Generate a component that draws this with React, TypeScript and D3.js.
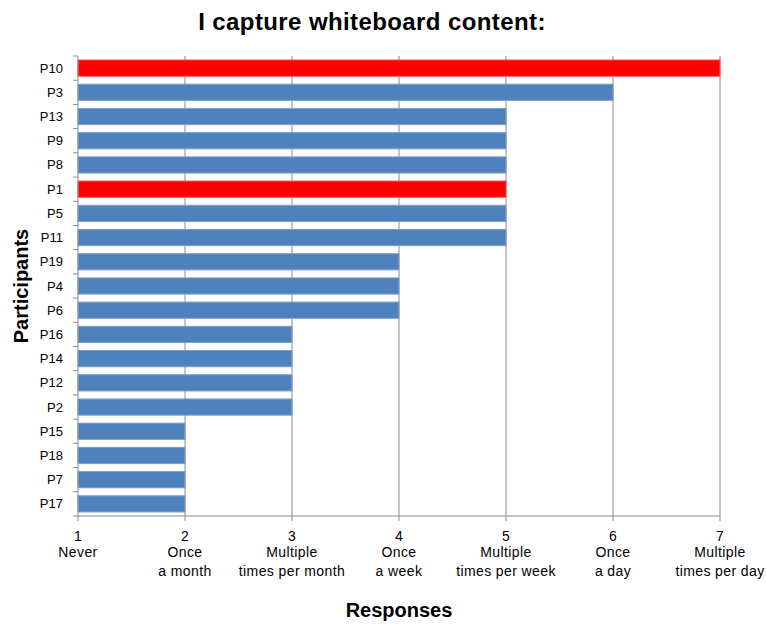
import React from "react";
import * as d3 from "d3";

const participants = ["P10","P3","P13","P9","P8","P1","P5","P11","P19","P4","P6","P16","P14","P12","P2","P15","P18","P7","P17"];
const responses = [7,6,5,5,5,5,5,5,4,4,4,3,3,3,3,2,2,2,2];
const highlighted = ["P10","P1"];
const tickValues = [1,2,3,4,5,6,7];
const tickLabels = [["Never"],["Once","a month"],["Multiple","times per month"],["Once","a week"],["Multiple","times per week"],["Once","a day"],["Multiple","times per day"]];

const W = 766, H = 625;
const left = 78, right = 720, top = 56, bottom = 516;
const font = "'Liberation Sans', Arial, sans-serif";

export default function App() {
  const x = d3.scaleLinear().domain([1, 7]).range([left, right]);
  const y = d3.scaleBand().domain(participants).range([top, bottom]).paddingInner(0.33).paddingOuter(0.165);
  const step = y.step();
  return (
    <svg width={W} height={H} style={{ position: "absolute", left: 0, top: 0 }}>
      <rect width={W} height={H} fill="#fff" />
      <text x={372} y={30} textAnchor="middle" fontFamily={font} fontWeight="bold" fontSize={24} letterSpacing={0.4}>I capture whiteboard content:</text>
      {tickValues.slice(1).map(v => (
        <line key={v} x1={x(v)} x2={x(v)} y1={top} y2={bottom} stroke="#8c8c8c" strokeWidth={1} />
      ))}
      {participants.map((p, i) => (
        <rect key={p} x={x(1)} y={y(p)!} width={x(responses[i]) - x(1)} height={y.bandwidth()}
          fill={highlighted.includes(p) ? "#ff0000" : "#4f81bd"}
          stroke={highlighted.includes(p) ? "#ff4d4d" : "#7da0cc"} strokeWidth={1} />
      ))}
      <line x1={left} x2={left} y1={top} y2={bottom} stroke="#8c8c8c" />
      <line x1={left} x2={right} y1={bottom} y2={bottom} stroke="#8c8c8c" />
      {d3.range(participants.length + 1).map(i => (
        <line key={i} x1={left - 5} x2={left} y1={top + i * step} y2={top + i * step} stroke="#8c8c8c" />
      ))}
      {tickValues.map(v => (
        <line key={v} x1={x(v)} x2={x(v)} y1={bottom} y2={bottom + 5} stroke="#8c8c8c" />
      ))}
      {participants.map(p => (
        <text key={p} x={63} y={y(p)! + y.bandwidth() / 2 + 4.5} textAnchor="end" fontFamily={font} fontSize={13}>{p}</text>
      ))}
      {tickValues.map((v, i) => (
        <g key={v}>
          <text x={x(v)} y={541} textAnchor="middle" fontFamily={font} fontSize={14}>{v}</text>
          {tickLabels[i].map((l, j) => (
            <text key={j} x={x(v)} y={557 + j * 19} textAnchor="middle" fontFamily={font} fontSize={14} letterSpacing={0.4}>{l}</text>
          ))}
        </g>
      ))}
      <text transform={`translate(28,${286}) rotate(-90)`} textAnchor="middle" fontFamily={font} fontWeight="bold" fontSize={20}>Participants</text>
      <text x={399} y={617} textAnchor="middle" fontFamily={font} fontWeight="bold" fontSize={20}>Responses</text>
    </svg>
  );
}
